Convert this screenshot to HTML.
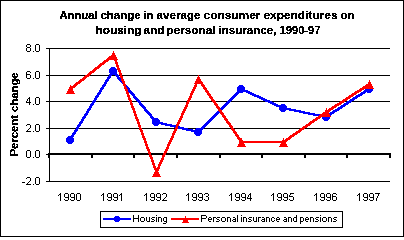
<!DOCTYPE html>
<html><head><meta charset="utf-8"><style>
html,body{margin:0;padding:0;background:#fff;}
body{width:404px;height:237px;overflow:hidden;}
svg{display:block;}
text{font-family:"Liberation Sans",sans-serif;fill:#000;}
.t{font-weight:bold;font-size:11.5px;filter:url(#th);}
</style></head><body>
<svg width="404" height="237" viewBox="0 0 404 237">
<defs><filter id="th" x="-5%" y="-20%" width="110%" height="140%"><feComponentTransfer><feFuncA type="discrete" tableValues="0 0 0 1 1 1 1 1 1 1"/></feComponentTransfer></filter><filter id="th3" x="-20%" y="-5%" width="140%" height="110%"><feComponentTransfer><feFuncA type="discrete" tableValues="0 0 0 0 1 1 1 1 1 1"/></feComponentTransfer></filter></defs>
<rect x="0" y="0" width="404" height="237" fill="#fff"/>
<!-- outer border -->
<rect x="0.5" y="0.5" width="403" height="236" fill="none" stroke="#000" stroke-width="1" shape-rendering="crispEdges"/>
<!-- title -->
<!--TITLE-->
<text class="t" x="59.5" y="19.0" textLength="38" lengthAdjust="spacingAndGlyphs">Annual</text>
<text class="t" x="100.5" y="19.0" textLength="40" lengthAdjust="spacingAndGlyphs">change</text>
<text class="t" x="143.5" y="19.0" textLength="10" lengthAdjust="spacingAndGlyphs">in</text>
<text class="t" x="156.5" y="19.0" textLength="44" lengthAdjust="spacingAndGlyphs">average</text>
<text class="t" x="203.5" y="19.0" textLength="57" lengthAdjust="spacingAndGlyphs">consumer</text>
<text class="t" x="263.5" y="19.0" textLength="74" lengthAdjust="spacingAndGlyphs">expenditures</text>
<text class="t" x="340.5" y="19.0" textLength="14" lengthAdjust="spacingAndGlyphs">on</text>
<text class="t" x="95.5" y="34.0" textLength="46" lengthAdjust="spacingAndGlyphs">housing</text>
<text class="t" x="143.5" y="34.0" textLength="21" lengthAdjust="spacingAndGlyphs">and</text>
<text class="t" x="166.5" y="34.0" textLength="49" lengthAdjust="spacingAndGlyphs">personal</text>
<text class="t" x="218.5" y="34.0" textLength="58" lengthAdjust="spacingAndGlyphs">insurance,</text>
<text class="t" x="279.5" y="34.0" textLength="41" lengthAdjust="spacingAndGlyphs">1990-97</text>
<!--/TITLE-->
<!-- y axis title -->
<text class="t" style="font-size:11.3px;filter:url(#th3)" transform="translate(18,114.5) rotate(-90)" text-anchor="middle">Percent change</text>
<!-- gridlines -->
<g fill="#000" shape-rendering="crispEdges">
<rect x="46" y="48" width="344" height="1"/>
<rect x="46" y="75" width="344" height="1"/>
<rect x="46" y="101" width="344" height="1"/>
<rect x="46" y="128" width="344" height="1"/>
<rect x="46" y="181" width="344" height="1"/>
<rect x="46" y="154" width="3" height="1"/>
<!-- y axis -->
<rect x="49" y="48" width="1" height="134"/>
<!-- x axis -->
<rect x="48" y="153" width="343" height="2"/>
<!-- ticks -->
<rect x="48" y="155" width="1" height="3"/>
<rect x="91" y="155" width="2" height="3"/>
<rect x="133" y="155" width="2" height="3"/>
<rect x="176" y="155" width="2" height="3"/>
<rect x="219" y="155" width="2" height="3"/>
<rect x="261" y="155" width="2" height="3"/>
<rect x="304" y="155" width="2" height="3"/>
<rect x="346" y="155" width="2" height="3"/>
<rect x="389" y="155" width="2" height="3"/>
</g>
<!-- axis labels (pixel glyphs) -->
<path fill="#000" shape-rendering="crispEdges" d="M27 44h3v1h-3zM26 45h1v1h-1zM30 45h1v1h-1zM26 46h1v1h-1zM30 46h1v1h-1zM27 47h3v1h-3zM26 48h1v1h-1zM30 48h1v1h-1zM26 49h1v1h-1zM30 49h1v1h-1zM26 50h1v1h-1zM30 50h1v1h-1zM27 51h3v1h-3zM33 51h1v1h-1zM36 44h3v1h-3zM35 45h1v1h-1zM39 45h1v1h-1zM35 46h1v1h-1zM39 46h1v1h-1zM35 47h1v1h-1zM39 47h1v1h-1zM35 48h1v1h-1zM39 48h1v1h-1zM35 49h1v1h-1zM39 49h1v1h-1zM35 50h1v1h-1zM39 50h1v1h-1zM36 51h3v1h-3zM27 71h3v1h-3zM26 72h1v1h-1zM30 72h1v1h-1zM26 73h1v1h-1zM26 74h4v1h-4zM26 75h1v1h-1zM30 75h1v1h-1zM26 76h1v1h-1zM30 76h1v1h-1zM26 77h1v1h-1zM30 77h1v1h-1zM27 78h3v1h-3zM33 78h1v1h-1zM36 71h3v1h-3zM35 72h1v1h-1zM39 72h1v1h-1zM35 73h1v1h-1zM39 73h1v1h-1zM35 74h1v1h-1zM39 74h1v1h-1zM35 75h1v1h-1zM39 75h1v1h-1zM35 76h1v1h-1zM39 76h1v1h-1zM35 77h1v1h-1zM39 77h1v1h-1zM36 78h3v1h-3zM29 97h1v1h-1zM28 98h2v1h-2zM27 99h1v1h-1zM29 99h1v1h-1zM27 100h1v1h-1zM29 100h1v1h-1zM26 101h1v1h-1zM29 101h1v1h-1zM26 102h5v1h-5zM29 103h1v1h-1zM29 104h1v1h-1zM33 104h1v1h-1zM36 97h3v1h-3zM35 98h1v1h-1zM39 98h1v1h-1zM35 99h1v1h-1zM39 99h1v1h-1zM35 100h1v1h-1zM39 100h1v1h-1zM35 101h1v1h-1zM39 101h1v1h-1zM35 102h1v1h-1zM39 102h1v1h-1zM35 103h1v1h-1zM39 103h1v1h-1zM36 104h3v1h-3zM27 124h3v1h-3zM26 125h1v1h-1zM30 125h1v1h-1zM30 126h1v1h-1zM30 127h1v1h-1zM29 128h1v1h-1zM28 129h1v1h-1zM27 130h1v1h-1zM26 131h5v1h-5zM33 131h1v1h-1zM36 124h3v1h-3zM35 125h1v1h-1zM39 125h1v1h-1zM35 126h1v1h-1zM39 126h1v1h-1zM35 127h1v1h-1zM39 127h1v1h-1zM35 128h1v1h-1zM39 128h1v1h-1zM35 129h1v1h-1zM39 129h1v1h-1zM35 130h1v1h-1zM39 130h1v1h-1zM36 131h3v1h-3zM27 150h3v1h-3zM26 151h1v1h-1zM30 151h1v1h-1zM26 152h1v1h-1zM30 152h1v1h-1zM26 153h1v1h-1zM30 153h1v1h-1zM26 154h1v1h-1zM30 154h1v1h-1zM26 155h1v1h-1zM30 155h1v1h-1zM26 156h1v1h-1zM30 156h1v1h-1zM27 157h3v1h-3zM33 157h1v1h-1zM36 150h3v1h-3zM35 151h1v1h-1zM39 151h1v1h-1zM35 152h1v1h-1zM39 152h1v1h-1zM35 153h1v1h-1zM39 153h1v1h-1zM35 154h1v1h-1zM39 154h1v1h-1zM35 155h1v1h-1zM39 155h1v1h-1zM35 156h1v1h-1zM39 156h1v1h-1zM36 157h3v1h-3zM22 182h3v1h-3zM27 177h3v1h-3zM26 178h1v1h-1zM30 178h1v1h-1zM30 179h1v1h-1zM30 180h1v1h-1zM29 181h1v1h-1zM28 182h1v1h-1zM27 183h1v1h-1zM26 184h5v1h-5zM33 184h1v1h-1zM36 177h3v1h-3zM35 178h1v1h-1zM39 178h1v1h-1zM35 179h1v1h-1zM39 179h1v1h-1zM35 180h1v1h-1zM39 180h1v1h-1zM35 181h1v1h-1zM39 181h1v1h-1zM35 182h1v1h-1zM39 182h1v1h-1zM35 183h1v1h-1zM39 183h1v1h-1zM36 184h3v1h-3zM60 193h1v1h-1zM59 194h2v1h-2zM58 195h1v1h-1zM60 195h1v1h-1zM60 196h1v1h-1zM60 197h1v1h-1zM60 198h1v1h-1zM60 199h1v1h-1zM60 200h1v1h-1zM65 193h3v1h-3zM64 194h1v1h-1zM68 194h1v1h-1zM64 195h1v1h-1zM68 195h1v1h-1zM64 196h1v1h-1zM68 196h1v1h-1zM65 197h4v1h-4zM68 198h1v1h-1zM64 199h1v1h-1zM68 199h1v1h-1zM65 200h3v1h-3zM71 193h3v1h-3zM70 194h1v1h-1zM74 194h1v1h-1zM70 195h1v1h-1zM74 195h1v1h-1zM70 196h1v1h-1zM74 196h1v1h-1zM71 197h4v1h-4zM74 198h1v1h-1zM70 199h1v1h-1zM74 199h1v1h-1zM71 200h3v1h-3zM77 193h3v1h-3zM76 194h1v1h-1zM80 194h1v1h-1zM76 195h1v1h-1zM80 195h1v1h-1zM76 196h1v1h-1zM80 196h1v1h-1zM76 197h1v1h-1zM80 197h1v1h-1zM76 198h1v1h-1zM80 198h1v1h-1zM76 199h1v1h-1zM80 199h1v1h-1zM77 200h3v1h-3zM103 193h1v1h-1zM102 194h2v1h-2zM101 195h1v1h-1zM103 195h1v1h-1zM103 196h1v1h-1zM103 197h1v1h-1zM103 198h1v1h-1zM103 199h1v1h-1zM103 200h1v1h-1zM108 193h3v1h-3zM107 194h1v1h-1zM111 194h1v1h-1zM107 195h1v1h-1zM111 195h1v1h-1zM107 196h1v1h-1zM111 196h1v1h-1zM108 197h4v1h-4zM111 198h1v1h-1zM107 199h1v1h-1zM111 199h1v1h-1zM108 200h3v1h-3zM114 193h3v1h-3zM113 194h1v1h-1zM117 194h1v1h-1zM113 195h1v1h-1zM117 195h1v1h-1zM113 196h1v1h-1zM117 196h1v1h-1zM114 197h4v1h-4zM117 198h1v1h-1zM113 199h1v1h-1zM117 199h1v1h-1zM114 200h3v1h-3zM121 193h1v1h-1zM120 194h2v1h-2zM119 195h1v1h-1zM121 195h1v1h-1zM121 196h1v1h-1zM121 197h1v1h-1zM121 198h1v1h-1zM121 199h1v1h-1zM121 200h1v1h-1zM146 193h1v1h-1zM145 194h2v1h-2zM144 195h1v1h-1zM146 195h1v1h-1zM146 196h1v1h-1zM146 197h1v1h-1zM146 198h1v1h-1zM146 199h1v1h-1zM146 200h1v1h-1zM151 193h3v1h-3zM150 194h1v1h-1zM154 194h1v1h-1zM150 195h1v1h-1zM154 195h1v1h-1zM150 196h1v1h-1zM154 196h1v1h-1zM151 197h4v1h-4zM154 198h1v1h-1zM150 199h1v1h-1zM154 199h1v1h-1zM151 200h3v1h-3zM157 193h3v1h-3zM156 194h1v1h-1zM160 194h1v1h-1zM156 195h1v1h-1zM160 195h1v1h-1zM156 196h1v1h-1zM160 196h1v1h-1zM157 197h4v1h-4zM160 198h1v1h-1zM156 199h1v1h-1zM160 199h1v1h-1zM157 200h3v1h-3zM163 193h3v1h-3zM162 194h1v1h-1zM166 194h1v1h-1zM166 195h1v1h-1zM166 196h1v1h-1zM165 197h1v1h-1zM164 198h1v1h-1zM163 199h1v1h-1zM162 200h5v1h-5zM188 193h1v1h-1zM187 194h2v1h-2zM186 195h1v1h-1zM188 195h1v1h-1zM188 196h1v1h-1zM188 197h1v1h-1zM188 198h1v1h-1zM188 199h1v1h-1zM188 200h1v1h-1zM193 193h3v1h-3zM192 194h1v1h-1zM196 194h1v1h-1zM192 195h1v1h-1zM196 195h1v1h-1zM192 196h1v1h-1zM196 196h1v1h-1zM193 197h4v1h-4zM196 198h1v1h-1zM192 199h1v1h-1zM196 199h1v1h-1zM193 200h3v1h-3zM199 193h3v1h-3zM198 194h1v1h-1zM202 194h1v1h-1zM198 195h1v1h-1zM202 195h1v1h-1zM198 196h1v1h-1zM202 196h1v1h-1zM199 197h4v1h-4zM202 198h1v1h-1zM198 199h1v1h-1zM202 199h1v1h-1zM199 200h3v1h-3zM205 193h3v1h-3zM204 194h1v1h-1zM208 194h1v1h-1zM208 195h1v1h-1zM206 196h2v1h-2zM208 197h1v1h-1zM208 198h1v1h-1zM204 199h1v1h-1zM208 199h1v1h-1zM205 200h3v1h-3zM231 193h1v1h-1zM230 194h2v1h-2zM229 195h1v1h-1zM231 195h1v1h-1zM231 196h1v1h-1zM231 197h1v1h-1zM231 198h1v1h-1zM231 199h1v1h-1zM231 200h1v1h-1zM236 193h3v1h-3zM235 194h1v1h-1zM239 194h1v1h-1zM235 195h1v1h-1zM239 195h1v1h-1zM235 196h1v1h-1zM239 196h1v1h-1zM236 197h4v1h-4zM239 198h1v1h-1zM235 199h1v1h-1zM239 199h1v1h-1zM236 200h3v1h-3zM242 193h3v1h-3zM241 194h1v1h-1zM245 194h1v1h-1zM241 195h1v1h-1zM245 195h1v1h-1zM241 196h1v1h-1zM245 196h1v1h-1zM242 197h4v1h-4zM245 198h1v1h-1zM241 199h1v1h-1zM245 199h1v1h-1zM242 200h3v1h-3zM250 193h1v1h-1zM249 194h2v1h-2zM248 195h1v1h-1zM250 195h1v1h-1zM248 196h1v1h-1zM250 196h1v1h-1zM247 197h1v1h-1zM250 197h1v1h-1zM247 198h5v1h-5zM250 199h1v1h-1zM250 200h1v1h-1zM273 193h1v1h-1zM272 194h2v1h-2zM271 195h1v1h-1zM273 195h1v1h-1zM273 196h1v1h-1zM273 197h1v1h-1zM273 198h1v1h-1zM273 199h1v1h-1zM273 200h1v1h-1zM278 193h3v1h-3zM277 194h1v1h-1zM281 194h1v1h-1zM277 195h1v1h-1zM281 195h1v1h-1zM277 196h1v1h-1zM281 196h1v1h-1zM278 197h4v1h-4zM281 198h1v1h-1zM277 199h1v1h-1zM281 199h1v1h-1zM278 200h3v1h-3zM284 193h3v1h-3zM283 194h1v1h-1zM287 194h1v1h-1zM283 195h1v1h-1zM287 195h1v1h-1zM283 196h1v1h-1zM287 196h1v1h-1zM284 197h4v1h-4zM287 198h1v1h-1zM283 199h1v1h-1zM287 199h1v1h-1zM284 200h3v1h-3zM290 193h4v1h-4zM290 194h1v1h-1zM289 195h1v1h-1zM289 196h4v1h-4zM293 197h1v1h-1zM293 198h1v1h-1zM289 199h1v1h-1zM293 199h1v1h-1zM290 200h3v1h-3zM316 193h1v1h-1zM315 194h2v1h-2zM314 195h1v1h-1zM316 195h1v1h-1zM316 196h1v1h-1zM316 197h1v1h-1zM316 198h1v1h-1zM316 199h1v1h-1zM316 200h1v1h-1zM321 193h3v1h-3zM320 194h1v1h-1zM324 194h1v1h-1zM320 195h1v1h-1zM324 195h1v1h-1zM320 196h1v1h-1zM324 196h1v1h-1zM321 197h4v1h-4zM324 198h1v1h-1zM320 199h1v1h-1zM324 199h1v1h-1zM321 200h3v1h-3zM327 193h3v1h-3zM326 194h1v1h-1zM330 194h1v1h-1zM326 195h1v1h-1zM330 195h1v1h-1zM326 196h1v1h-1zM330 196h1v1h-1zM327 197h4v1h-4zM330 198h1v1h-1zM326 199h1v1h-1zM330 199h1v1h-1zM327 200h3v1h-3zM333 193h3v1h-3zM332 194h1v1h-1zM336 194h1v1h-1zM332 195h1v1h-1zM332 196h4v1h-4zM332 197h1v1h-1zM336 197h1v1h-1zM332 198h1v1h-1zM336 198h1v1h-1zM332 199h1v1h-1zM336 199h1v1h-1zM333 200h3v1h-3zM359 193h1v1h-1zM358 194h2v1h-2zM357 195h1v1h-1zM359 195h1v1h-1zM359 196h1v1h-1zM359 197h1v1h-1zM359 198h1v1h-1zM359 199h1v1h-1zM359 200h1v1h-1zM364 193h3v1h-3zM363 194h1v1h-1zM367 194h1v1h-1zM363 195h1v1h-1zM367 195h1v1h-1zM363 196h1v1h-1zM367 196h1v1h-1zM364 197h4v1h-4zM367 198h1v1h-1zM363 199h1v1h-1zM367 199h1v1h-1zM364 200h3v1h-3zM370 193h3v1h-3zM369 194h1v1h-1zM373 194h1v1h-1zM369 195h1v1h-1zM373 195h1v1h-1zM369 196h1v1h-1zM373 196h1v1h-1zM370 197h4v1h-4zM373 198h1v1h-1zM369 199h1v1h-1zM373 199h1v1h-1zM370 200h3v1h-3zM375 193h5v1h-5zM378 194h1v1h-1zM378 195h1v1h-1zM377 196h1v1h-1zM377 197h1v1h-1zM376 198h1v1h-1zM376 199h1v1h-1zM376 200h1v1h-1z"/>
<!-- housing series -->
<!--BLUE--><path shape-rendering="crispEdges" fill="#0000ff" d="M69 139 112 70 114 70 114 72 71 141 69 141zM112 70 114 70 157 121 157 123 155 123 112 72zM155 121 157 121 199 131 199 133 197 133 155 123zM197 131 240 88 242 88 242 90 199 133 197 133zM240 88 242 88 284 107 284 109 282 109 240 90zM282 107 284 107 327 116 327 118 325 118 282 109zM325 116 368 88 370 88 370 90 327 118 325 118z"/><!--/BLUE-->
<g fill="#0000ff" shape-rendering="crispEdges">
<circle cx="70" cy="140" r="4"/>
<circle cx="113" cy="71" r="4"/>
<circle cx="156" cy="122" r="4"/>
<circle cx="198" cy="132" r="4"/>
<circle cx="241" cy="89" r="4"/>
<circle cx="283" cy="108" r="4"/>
<circle cx="326" cy="117" r="4"/>
<circle cx="369" cy="89" r="4"/>
</g>
<!-- personal insurance series -->
<!--RED--><path shape-rendering="crispEdges" fill="#ff0000" d="M69.5 88 112.5 54 114.5 54 114.5 56 71.5 90 69.5 90zM112.5 54 114.5 54 157.5 171 157.5 173 155.5 173 112.5 56zM155.5 171 197.5 78 199.5 78 199.5 80 157.5 173 155.5 173zM197.5 78 199.5 78 242.5 141 242.5 143 240.5 143 197.5 80zM240.5 141 284.5 141 284.5 143 240.5 143zM282.5 141 325.5 111 327.5 111 327.5 113 284.5 143 282.5 143zM325.5 111 368.5 83 370.5 83 370.5 85 327.5 113 325.5 113z"/><!--/RED-->
<g fill="#ff0000" shape-rendering="crispEdges">
<polygon points="70.5,85 66,94 75,94"/>
<polygon points="113.5,51 109,60 118,60"/>
<polygon points="156.5,168 152,177 161,177"/>
<polygon points="198.5,75 194,84 203,84"/>
<polygon points="241.5,138 237,147 246,147"/>
<polygon points="283.5,138 279,147 288,147"/>
<polygon points="326.5,108 322,117 331,117"/>
<polygon points="369.5,80 365,89 374,89"/>
</g>
<!-- legend -->
<rect x="100.5" y="211.5" width="242" height="16" fill="none" stroke="#000" stroke-width="1" shape-rendering="crispEdges"/>
<rect x="103" y="218" width="28" height="2" fill="#0000ff" shape-rendering="crispEdges"/>
<path fill="#0000ff" shape-rendering="crispEdges" d="M115 216h4v1h-4zM114 217h6v4h-6zM115 221h4v1h-4z"/>
<path fill="#000" shape-rendering="crispEdges" d="M133 215h1v1h-1zM138 215h1v1h-1zM133 216h1v1h-1zM138 216h1v1h-1zM133 217h1v1h-1zM138 217h1v1h-1zM133 218h6v1h-6zM133 219h1v1h-1zM138 219h1v1h-1zM133 220h1v1h-1zM138 220h1v1h-1zM133 221h1v1h-1zM138 221h1v1h-1zM141 217h3v1h-3zM140 218h1v1h-1zM144 218h1v1h-1zM140 219h1v1h-1zM144 219h1v1h-1zM140 220h1v1h-1zM144 220h1v1h-1zM141 221h3v1h-3zM146 217h1v1h-1zM149 217h1v1h-1zM146 218h1v1h-1zM149 218h1v1h-1zM146 219h1v1h-1zM149 219h1v1h-1zM146 220h1v1h-1zM149 220h1v1h-1zM147 221h3v1h-3zM152 217h3v1h-3zM151 218h1v1h-1zM152 219h2v1h-2zM154 220h1v1h-1zM151 221h3v1h-3zM156 215h1v1h-1zM156 217h1v1h-1zM156 218h1v1h-1zM156 219h1v1h-1zM156 220h1v1h-1zM156 221h1v1h-1zM158 217h3v1h-3zM158 218h1v1h-1zM161 218h1v1h-1zM158 219h1v1h-1zM161 219h1v1h-1zM158 220h1v1h-1zM161 220h1v1h-1zM158 221h1v1h-1zM161 221h1v1h-1zM164 217h3v1h-3zM163 218h1v1h-1zM166 218h1v1h-1zM163 219h1v1h-1zM166 219h1v1h-1zM163 220h1v1h-1zM166 220h1v1h-1zM164 221h3v1h-3zM166 222h1v1h-1zM163 223h3v1h-3zM201 215h5v1h-5zM201 216h1v1h-1zM206 216h1v1h-1zM201 217h1v1h-1zM206 217h1v1h-1zM201 218h5v1h-5zM201 219h1v1h-1zM201 220h1v1h-1zM201 221h1v1h-1zM209 217h2v1h-2zM208 218h1v1h-1zM211 218h1v1h-1zM208 219h4v1h-4zM208 220h1v1h-1zM209 221h2v1h-2zM213 217h3v1h-3zM213 218h1v1h-1zM213 219h1v1h-1zM213 220h1v1h-1zM213 221h1v1h-1zM217 217h3v1h-3zM216 218h1v1h-1zM217 219h2v1h-2zM219 220h1v1h-1zM216 221h3v1h-3zM222 217h3v1h-3zM221 218h1v1h-1zM225 218h1v1h-1zM221 219h1v1h-1zM225 219h1v1h-1zM221 220h1v1h-1zM225 220h1v1h-1zM222 221h3v1h-3zM227 217h3v1h-3zM227 218h1v1h-1zM230 218h1v1h-1zM227 219h1v1h-1zM230 219h1v1h-1zM227 220h1v1h-1zM230 220h1v1h-1zM227 221h1v1h-1zM230 221h1v1h-1zM233 217h2v1h-2zM235 218h1v1h-1zM233 219h3v1h-3zM232 220h1v1h-1zM235 220h1v1h-1zM233 221h3v1h-3zM237 215h1v1h-1zM237 216h1v1h-1zM237 217h1v1h-1zM237 218h1v1h-1zM237 219h1v1h-1zM237 220h1v1h-1zM237 221h1v1h-1zM241 215h1v1h-1zM241 217h1v1h-1zM241 218h1v1h-1zM241 219h1v1h-1zM241 220h1v1h-1zM241 221h1v1h-1zM243 217h3v1h-3zM243 218h1v1h-1zM246 218h1v1h-1zM243 219h1v1h-1zM246 219h1v1h-1zM243 220h1v1h-1zM246 220h1v1h-1zM243 221h1v1h-1zM246 221h1v1h-1zM249 217h3v1h-3zM248 218h1v1h-1zM249 219h2v1h-2zM251 220h1v1h-1zM248 221h3v1h-3zM253 217h1v1h-1zM256 217h1v1h-1zM253 218h1v1h-1zM256 218h1v1h-1zM253 219h1v1h-1zM256 219h1v1h-1zM253 220h1v1h-1zM256 220h1v1h-1zM254 221h3v1h-3zM258 217h3v1h-3zM258 218h1v1h-1zM258 219h1v1h-1zM258 220h1v1h-1zM258 221h1v1h-1zM262 217h2v1h-2zM264 218h1v1h-1zM262 219h3v1h-3zM261 220h1v1h-1zM264 220h1v1h-1zM262 221h3v1h-3zM266 217h3v1h-3zM266 218h1v1h-1zM269 218h1v1h-1zM266 219h1v1h-1zM269 219h1v1h-1zM266 220h1v1h-1zM269 220h1v1h-1zM266 221h1v1h-1zM269 221h1v1h-1zM272 217h2v1h-2zM271 218h1v1h-1zM274 218h1v1h-1zM271 219h1v1h-1zM271 220h1v1h-1zM274 220h1v1h-1zM272 221h2v1h-2zM277 217h2v1h-2zM276 218h1v1h-1zM279 218h1v1h-1zM276 219h4v1h-4zM276 220h1v1h-1zM277 221h2v1h-2zM284 217h2v1h-2zM286 218h1v1h-1zM284 219h3v1h-3zM283 220h1v1h-1zM286 220h1v1h-1zM284 221h3v1h-3zM288 217h3v1h-3zM288 218h1v1h-1zM291 218h1v1h-1zM288 219h1v1h-1zM291 219h1v1h-1zM288 220h1v1h-1zM291 220h1v1h-1zM288 221h1v1h-1zM291 221h1v1h-1zM296 215h1v1h-1zM296 216h1v1h-1zM294 217h3v1h-3zM293 218h1v1h-1zM296 218h1v1h-1zM293 219h1v1h-1zM296 219h1v1h-1zM293 220h1v1h-1zM296 220h1v1h-1zM294 221h3v1h-3zM300 217h3v1h-3zM300 218h1v1h-1zM303 218h1v1h-1zM300 219h1v1h-1zM303 219h1v1h-1zM300 220h1v1h-1zM303 220h1v1h-1zM300 221h3v1h-3zM300 222h1v1h-1zM300 223h1v1h-1zM306 217h2v1h-2zM305 218h1v1h-1zM308 218h1v1h-1zM305 219h4v1h-4zM305 220h1v1h-1zM306 221h2v1h-2zM310 217h3v1h-3zM310 218h1v1h-1zM313 218h1v1h-1zM310 219h1v1h-1zM313 219h1v1h-1zM310 220h1v1h-1zM313 220h1v1h-1zM310 221h1v1h-1zM313 221h1v1h-1zM316 217h3v1h-3zM315 218h1v1h-1zM316 219h2v1h-2zM318 220h1v1h-1zM315 221h3v1h-3zM320 215h1v1h-1zM320 217h1v1h-1zM320 218h1v1h-1zM320 219h1v1h-1zM320 220h1v1h-1zM320 221h1v1h-1zM323 217h3v1h-3zM322 218h1v1h-1zM326 218h1v1h-1zM322 219h1v1h-1zM326 219h1v1h-1zM322 220h1v1h-1zM326 220h1v1h-1zM323 221h3v1h-3zM328 217h3v1h-3zM328 218h1v1h-1zM331 218h1v1h-1zM328 219h1v1h-1zM331 219h1v1h-1zM328 220h1v1h-1zM331 220h1v1h-1zM328 221h1v1h-1zM331 221h1v1h-1zM334 217h3v1h-3zM333 218h1v1h-1zM334 219h2v1h-2zM336 220h1v1h-1zM333 221h3v1h-3z"/>
<rect x="171" y="218" width="28" height="2" fill="#ff0000" shape-rendering="crispEdges"/>
<polygon points="185.5,216 182,223 189,223" fill="#ff0000" shape-rendering="crispEdges"/>

</svg>
</body></html>
